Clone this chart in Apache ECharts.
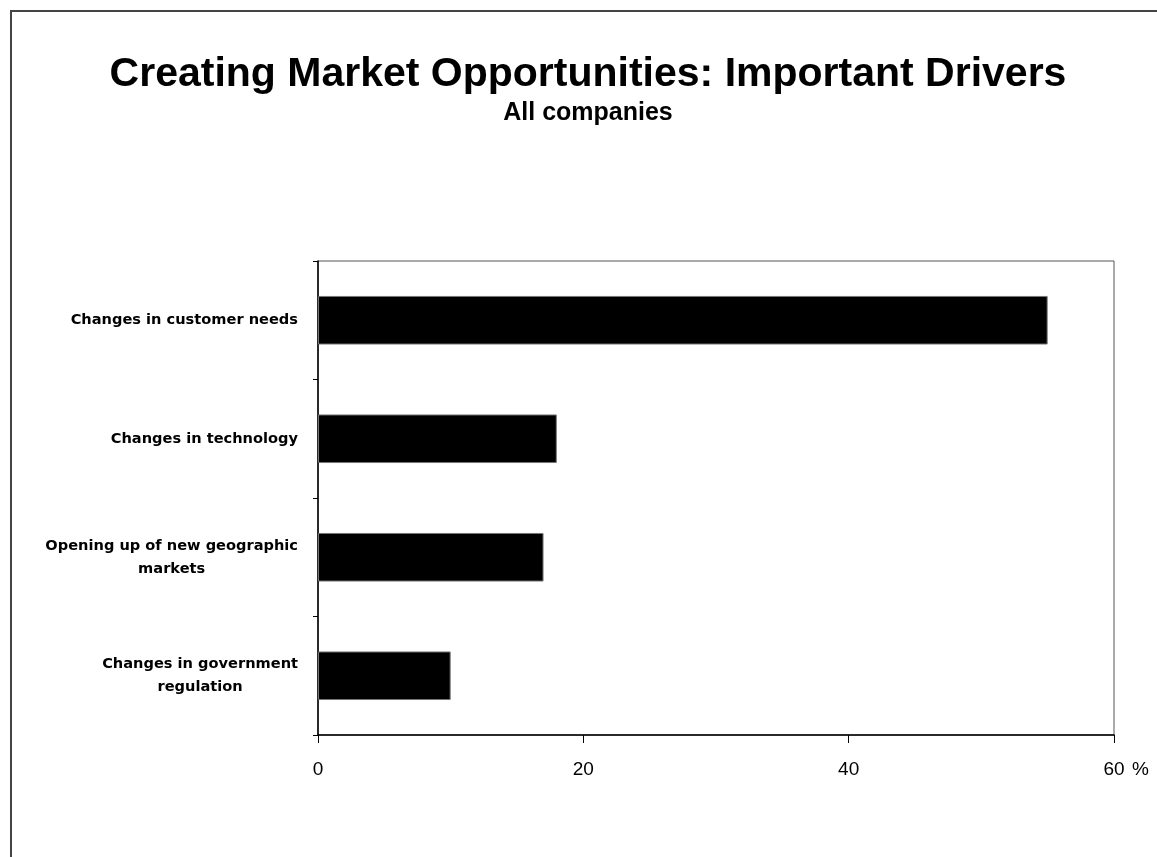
<!DOCTYPE html>
<html>
<head>
<meta charset="utf-8">
<script src="https://cdn.jsdelivr.net/npm/echarts@6/dist/echarts.min.js"></script>
<style>
  html, body { margin: 0; padding: 0; background: #fff; }
  #frame {
    position: absolute; left: 10px; top: 10px; width: 1147px; height: 847px;
    border-left: 2px solid #444; border-top: 2px solid #444; box-sizing: border-box;
  }
  #chart { position: absolute; left: 0; top: 0; width: 1157px; height: 857px; }
</style>
</head>
<body>
<div id="frame"></div>
<div id="chart"></div>
<script>
// Share of companies naming each driver (percent)
const categories = [
  'Changes in customer needs',
  'Changes in technology',
  'Opening up of new geographic\nmarkets',
  'Changes in government\nregulation'
];
const values = [55, 18, 17, 10];
const xTicks = [0, 20, 40, 60];

const chart = echarts.init(document.getElementById('chart'), null, { renderer: 'canvas' });

chart.setOption({
  backgroundColor: 'transparent',
  animation: false,
  title: {
    text: 'Creating Market Opportunities: Important Drivers',
    subtext: 'All companies',
    left: 583,
    textAlign: 'center',
    top: 49,
    itemGap: 6,
    textStyle: { fontFamily: 'Liberation Sans', fontWeight: 'bold', fontSize: 41, color: '#000' },
    subtextStyle: { fontFamily: 'Liberation Sans', fontWeight: 'bold', fontSize: 25, color: '#000' }
  },
  grid: {
    left: 318, right: 43, top: 261, bottom: 122,
    show: true, borderColor: '#555', borderWidth: 1, backgroundColor: '#fff'
  },
  xAxis: {
    type: 'value',
    min: xTicks[0],
    max: xTicks[xTicks.length - 1],
    interval: 20,
    splitLine: { show: false },
    axisLine: { show: true, lineStyle: { color: '#000', width: 1.5 } },
    axisTick: { show: true, inside: false, length: 8, lineStyle: { color: '#000', width: 1 } },
    axisLabel: {
      margin: 25,
      fontFamily: 'Liberation Sans', fontSize: 19, color: '#000'
    },
    name: '%',
    nameLocation: 'end',
    nameGap: 18,
    nameTextStyle: {
      fontFamily: 'Liberation Sans', fontSize: 19, color: '#000',
      verticalAlign: 'top', padding: [25, 0, 0, 0]
    }
  },
  yAxis: {
    type: 'category',
    data: categories,
    inverse: true,
    axisLine: { show: true, lineStyle: { color: '#000', width: 1.5 } },
    axisTick: { show: true, inside: false, length: 5, lineStyle: { color: '#000', width: 1 } },
    axisLabel: {
      margin: 20,
      align: 'right',
      formatter: function (v) {
        return v.split('\n').map(function (s) { return '{c|' + s + '}'; }).join('\n');
      },
      rich: {
        c: {
          align: 'center',
          fontFamily: 'DejaVu Sans', fontWeight: 'bold', fontSize: 14.6, color: '#000',
          lineHeight: 23
        }
      }
    }
  },
  series: [{
    type: 'bar',
    data: values,
    barWidth: '41%',
    itemStyle: { color: '#000', borderColor: '#777', borderWidth: 1 }
  }]
});
</script>
</body>
</html>
